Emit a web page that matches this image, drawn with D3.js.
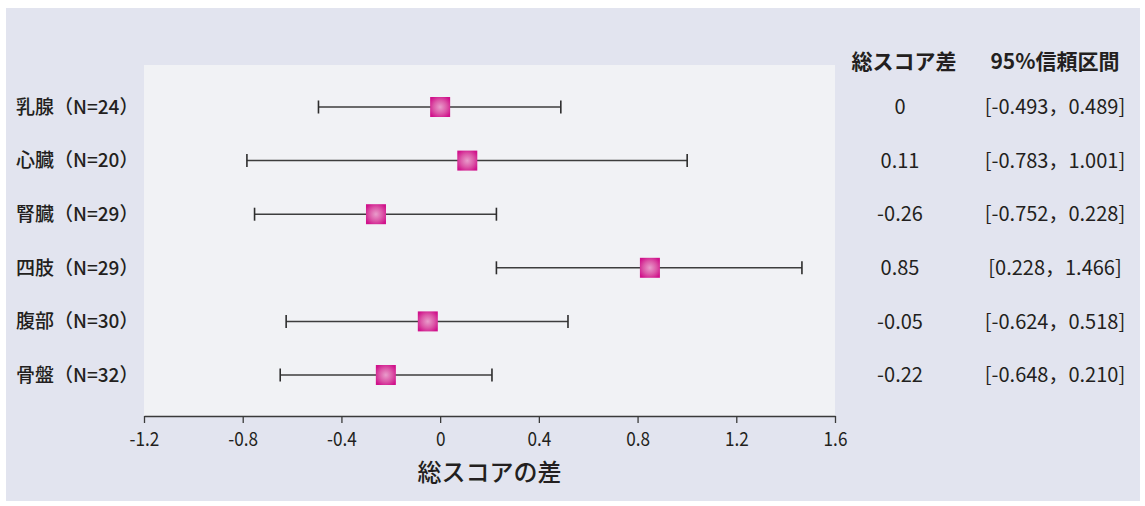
<!DOCTYPE html>
<html>
<head>
<meta charset="utf-8">
<script src="https://cdn.jsdelivr.net/npm/d3@7"></script>
<style>
  html, body { margin: 0; padding: 0; background: #ffffff; }
  svg { display: block; }
  text { font-family: "Noto Sans CJK JP", "Noto Sans", sans-serif; fill: #231f20; }
</style>
</head>
<body>
<svg id="chart" width="1145" height="506"></svg>
<script>
// Forest plot data: per-site total score difference with 95% CI
const sites = ["乳腺", "心臓", "腎臓", "四肢", "腹部", "骨盤"];
const counts = [24, 20, 29, 29, 30, 32];
const diffs = [0, 0.11, -0.26, 0.85, -0.05, -0.22];
const lower = [-0.493, -0.783, -0.752, 0.228, -0.624, -0.648];
const upper = [0.489, 1.001, 0.228, 1.466, 0.518, 0.210];
const xTicks = [-1.2, -0.8, -0.4, 0, 0.4, 0.8, 1.2, 1.6];
const diffHeader = "総スコア差";
const ciHeader = "95%信頼区間";
const xTitle = "総スコアの差";

const rows = sites.map((s, i) => ({
  site: s, n: counts[i], diff: diffs[i], lo: lower[i], hi: upper[i]
}));

const svg = d3.select("#chart");

// outer frame
svg.append("rect").attr("x", 6).attr("y", 8).attr("width", 1134).attr("height", 493)
  .attr("fill", "#e2e4ef");

const plot = { left: 144, right: 835, top: 65, bottom: 416 };

// plotting panel
svg.append("rect")
  .attr("x", plot.left).attr("y", plot.top)
  .attr("width", plot.right - plot.left).attr("height", plot.bottom - plot.top)
  .attr("fill", "#f1f2f5");

const x = d3.scaleLinear().domain([-1.2, 1.6]).range([plot.left, plot.right]);
const y = d3.scalePoint().domain(sites).range([107, 375]);

// plain hyphen for negatives
const num = v => String(v);

// x axis
const axis = svg.append("g")
  .attr("transform", `translate(0,${plot.bottom})`)
  .call(d3.axisBottom(x).tickValues(xTicks).tickSizeOuter(0).tickSizeInner(7).tickPadding(9)
    .tickFormat(d => num(+d.toFixed(1))));
axis.select(".domain").attr("stroke", "#3a3a3a").attr("stroke-width", 1.6);
axis.selectAll(".tick line").attr("stroke", "#3a3a3a").attr("stroke-width", 1.3);
axis.selectAll(".tick text")
  .attr("font-size", 19.5).attr("fill", "#231f20").attr("font-weight", 400)
  .style("font-family", "'Noto Sans CJK JP', sans-serif")
  .attr("transform", "scale(0.88,1)");

svg.append("text")
  .attr("x", (plot.left + plot.right) / 2).attr("y", 481)
  .attr("text-anchor", "middle").attr("font-size", 24).attr("font-weight", 500)
  .text(xTitle);

// marker gradient
const defs = svg.append("defs");
const grad = defs.append("radialGradient").attr("id", "mk").attr("cx", "50%").attr("cy", "50%").attr("r", "60%");
grad.append("stop").attr("offset", "0%").attr("stop-color", "#e99ccb");
grad.append("stop").attr("offset", "55%").attr("stop-color", "#dc58a8");
grad.append("stop").attr("offset", "100%").attr("stop-color", "#d0128b");

const g = svg.append("g");
const capH = 13;
const row = g.selectAll("g.row").data(rows).join("g").attr("class", "row");

row.append("line")
  .attr("x1", d => x(d.lo)).attr("x2", d => x(d.hi))
  .attr("y1", d => y(d.site)).attr("y2", d => y(d.site))
  .attr("stroke", "#3d3d3d").attr("stroke-width", 1.5);
row.append("line")
  .attr("x1", d => x(d.lo)).attr("x2", d => x(d.lo))
  .attr("y1", d => y(d.site) - capH / 2).attr("y2", d => y(d.site) + capH / 2)
  .attr("stroke", "#2d2d2d").attr("stroke-width", 1.6);
row.append("line")
  .attr("x1", d => x(d.hi)).attr("x2", d => x(d.hi))
  .attr("y1", d => y(d.site) - capH / 2).attr("y2", d => y(d.site) + capH / 2)
  .attr("stroke", "#2d2d2d").attr("stroke-width", 1.6);

const mk = 20;
row.append("rect")
  .attr("x", d => x(d.diff) - mk / 2).attr("y", d => y(d.site) - mk / 2)
  .attr("width", mk).attr("height", mk)
  .attr("fill", "url(#mk)");

// row labels
row.append("text")
  .attr("x", 16).attr("y", d => y(d.site)).attr("dy", "0.36em")
  .attr("font-size", 19).attr("font-weight", 500)
  .text(d => `${d.site}（N=${d.n}）`);

// right-hand table
svg.append("text").attr("x", 904).attr("y", 61).attr("dy", "0.36em")
  .attr("text-anchor", "middle").attr("font-size", 21).attr("font-weight", 700)
  .text(diffHeader);
svg.append("text").attr("x", 1055).attr("y", 61).attr("dy", "0.36em")
  .attr("text-anchor", "middle").attr("font-size", 21).attr("font-weight", 700)
  .text(ciHeader);

const fmt3 = v => v.toFixed(3);
row.append("text")
  .attr("x", 900).attr("y", d => y(d.site)).attr("dy", "0.36em")
  .attr("text-anchor", "middle").attr("font-size", 20).attr("font-weight", 400)
  .text(d => num(d.diff));
row.append("text")
  .attr("x", 1055).attr("y", d => y(d.site)).attr("dy", "0.36em")
  .attr("text-anchor", "middle").attr("font-size", 20).attr("font-weight", 400)
  .text(d => `[${fmt3(d.lo)}，${fmt3(d.hi)}]`);
</script>
</body>
</html>
